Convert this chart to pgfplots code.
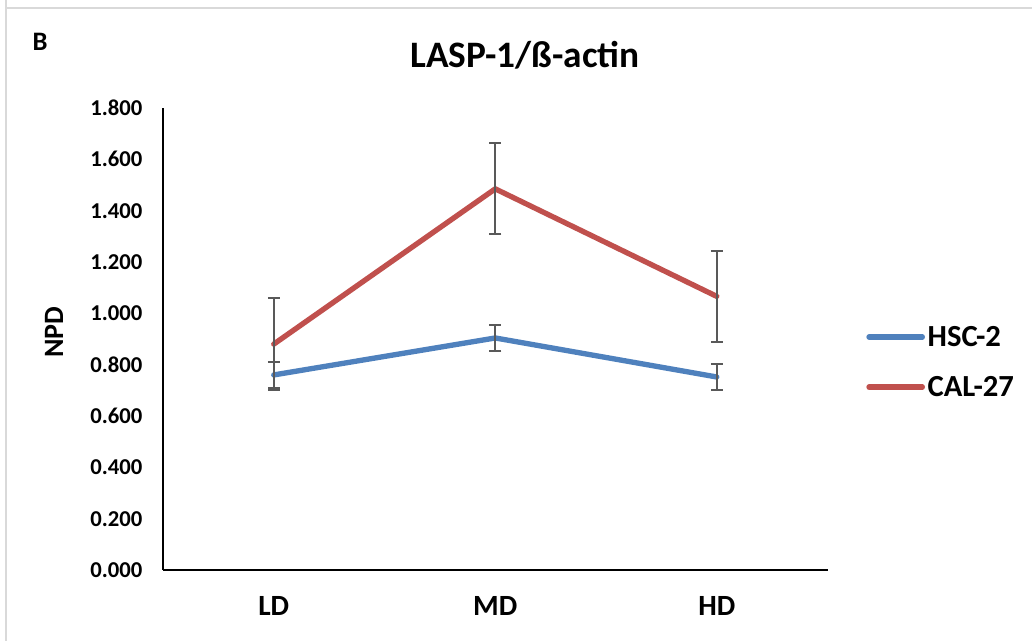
\documentclass[border=0pt]{standalone}
\usepackage{pgfplots}
\pgfplotsset{compat=1.18}
\usepackage{fontspec}
\setmainfont{Carlito}
\definecolor{cblue}{HTML}{4F81BD}
\definecolor{cred}{HTML}{C0504D}
\definecolor{ebar}{HTML}{595959}
\definecolor{frame}{HTML}{D9D9D9}
\pgfplotstableread{
x y e
0.5 0.760 0.052
1.5 0.904 0.050
2.5 0.752 0.049
}\hsc
\pgfplotstableread{
x y e
0.5 0.880 0.178
1.5 1.485 0.177
2.5 1.066 0.178
}\cal
\begin{document}
\begin{tikzpicture}
\path[use as bounding box] (0pt,0pt) rectangle (774pt,480.75pt);
\draw[frame,line width=1.2pt] (4.5pt,480.75pt) -- (4.5pt,0pt);
\draw[frame,line width=1.2pt] (4.5pt,474.75pt) -- (774pt,474.75pt);
\node[font=\fontsize{20}{24}\selectfont\bfseries] at (30pt,449.25pt) {B};
\node[font=\fontsize{28}{33}\selectfont\bfseries] at (393.75pt,439.5pt) {LASP-1/ß-actin};
\node[font=\fontsize{21}{25}\selectfont\bfseries,rotate=90] at (40.5pt,231.75pt) {NPD};
\begin{axis}[
  at={(122.25pt,53.25pt)}, anchor=south west,
  scale only axis, width=498.4pt, height=346.5pt,
  xmin=0, xmax=3, ymin=0, ymax=1.8,
  axis x line=bottom, axis y line=left,
  axis line style={-, black, line width=1.1pt},
  xtick={0.5,1.5,2.5}, xticklabels={LD,MD,HD},
  ytick={0,0.2,...,1.8},
  major tick length=0pt,
  /pgf/number format/.cd, fixed, fixed zerofill, precision=3, assume math mode=true,
  /pgfplots/.cd,
  yticklabel style={font=\fontsize{17}{20}\selectfont\bfseries, xshift=-12pt},
  xticklabel style={font=\fontsize{22}{26}\selectfont\bfseries, yshift=-16pt},
  legend style={at={(1.058,0.45)}, anchor=west, draw=none, fill=none,
    font=\fontsize{23}{27}\selectfont\bfseries, row sep=17pt,
    inner sep=0pt, cells={anchor=west}},
  legend image code/.code={\draw[#1, line cap=round] (0pt,0pt) -- (40pt,0pt);},
  clip=false,
]
\addplot[cblue, line width=4pt, line cap=round, line join=round,
  error bars/.cd, y dir=both, y explicit,
  error bar style={ebar, line width=1.5pt, line cap=butt},
  error mark options={ebar, line width=1.5pt, mark size=4.5pt, rotate=90}]
  table[x=x, y=y, y error=e] {\hsc};
\addlegendentry{HSC-2}
\addplot[cred, line width=4pt, line cap=round, line join=round,
  error bars/.cd, y dir=both, y explicit,
  error bar style={ebar, line width=1.5pt, line cap=butt},
  error mark options={ebar, line width=1.5pt, mark size=4.5pt, rotate=90}]
  table[x=x, y=y, y error=e] {\cal};
\addlegendentry{CAL-27}
\end{axis}
\end{tikzpicture}
\end{document}
